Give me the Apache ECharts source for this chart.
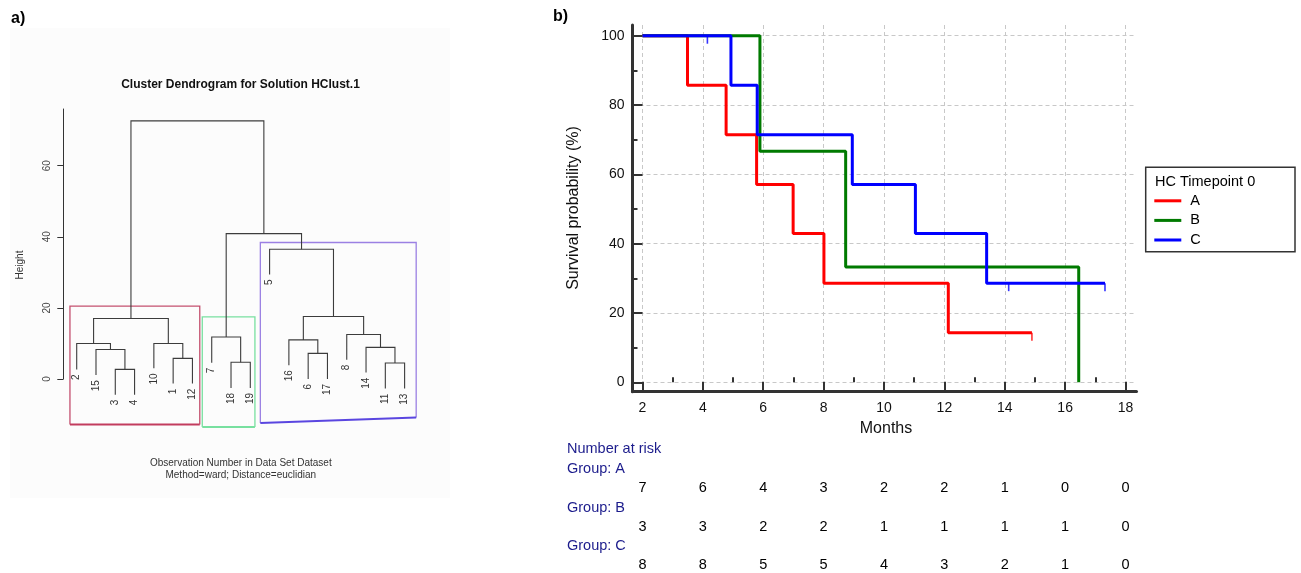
<!DOCTYPE html>
<html><head><meta charset="utf-8">
<script src="https://cdn.jsdelivr.net/npm/echarts@6/dist/echarts.min.js"></script>
<style>html,body{margin:0;padding:0;background:#fff}#c{width:1301px;height:573px}</style>
</head><body><div id="c"></div>
<script>
// ---------------- Dendrogram (panel a) ----------------
const leafLabels = ['2','15','3','4','10','1','12','7','18','19','5','16','6','17','8','14','11','13'];
const leafEnds   = [2.7, 1.1, -4.4, -4.4, 3.0, -1.3, -1.3, 4.6, -2.5, -2.5, 29.4, 3.9, 0.0, 0.0, 5.4, 1.8, -2.7, -2.7];
// hclust-style merges: negative = leaf position, positive = earlier merge number
const mergeA = [-3, -17, -9, -6, -13, -2, -16, -1, -5, -12, -8, -15, 8, 10, -11, 11, 13];
const mergeB = [-4, -18, -10, -7, -14, 1, 2, 6, 4, 5, 3, 7, 9, 12, 14, 15, 16];
const mergeHeights = [2.7, 4.5, 4.7, 5.8, 7.2, 8.3, 8.9, 10.0, 10.0, 11.0, 11.8, 12.5, 17.0, 17.6, 36.5, 40.9, 72.6];
const dendroTicks = [0, 20, 40, 60];
// cluster boxes (leaf-position / height units)
const boxLeft        = [0.65, 7.51, 10.52];
const boxRight       = [7.38, 10.24, 18.6];
const boxTop         = [20.5, 17.5, 38.4];
const boxBottomLeft  = [-12.8, -13.5, -12.4];
const boxBottomRight = [-12.8, -13.5, -10.8];

// ---------------- Kaplan-Meier (panel b) ----------------
const groupNames = ['A', 'B', 'C'];
const timesA = [2, 3.49, 4.77, 5.78, 6.99, 8.01, 12.13, 14.9];
const survA  = [100, 85.7, 71.4, 57.1, 42.9, 28.6, 14.3, 14.3];
const timesB = [2, 5.89, 8.73, 16.45];
const survB  = [100, 66.7, 33.3, 0];
const timesC = [2, 4.93, 5.80, 8.95, 11.04, 13.40, 17.32];
const survC  = [100, 85.7, 71.4, 57.1, 42.9, 28.6, 28.6];
const censorTimesA = [14.9];
const censorSurvA  = [14.3];
const censorTimesC = [4.15, 14.13, 17.32];
const censorSurvC  = [100, 28.6, 28.6];
const monthTicks = [2, 4, 6, 8, 10, 12, 14, 16, 18];
const monthMinor = [3, 5, 7, 9, 11, 13, 15, 17];
const survTicks = [0, 20, 40, 60, 80, 100];
const survMinor = [10, 30, 50, 70, 90];
const riskA = [7, 6, 4, 3, 2, 2, 1, 0, 0];
const riskB = [3, 3, 2, 2, 1, 1, 1, 1, 0];
const riskC = [8, 8, 5, 5, 4, 3, 2, 1, 0];

// ---------------- build ----------------
const FONT = 'Liberation Sans, Arial, sans-serif';
const kmColors = ['#ff0000', '#007a00', '#0000ff'];
const boxColors = ['#c4506f', '#78e0a0', '#9b80e3'];
const boxBottomColors = ['#c23c5e', '#78e0a0', '#5a46e0'];

const nodeX = [];
function childPos(ref) {
  return ref < 0 ? { x: -ref, y: leafEnds[-ref - 1] } : { x: nodeX[ref - 1], y: mergeHeights[ref - 1] };
}
const dendroSegs = [];
for (let i = 0; i < mergeA.length; i++) {
  const a = childPos(mergeA[i]), b = childPos(mergeB[i]);
  nodeX.push((a.x + b.x) / 2);
  dendroSegs.push([a.x, a.y, b.x, b.y, mergeHeights[i]]);
}
const boxData = boxLeft.map((l, i) => [l, boxRight[i], boxTop[i], boxBottomLeft[i], boxBottomRight[i], i]);
const leafData = leafLabels.map((t, i) => [i + 1, leafEnds[i]]);

const pairs = (xs, ys) => xs.map((x, i) => [x, ys[i]]);
const kmSeries = [[timesA, survA], [timesB, survB], [timesC, survC]].map((d, i) => ({
  name: groupNames[i], type: 'line', xAxisIndex: 1, yAxisIndex: 1, data: pairs(d[0], d[1]),
  step: 'end', symbol: 'none', showSymbol: false,
  lineStyle: { color: kmColors[i], width: 3 }, itemStyle: { color: kmColors[i] }, z: 3 + i
}));
const censorSeries = [[censorTimesA, censorSurvA, 0], [censorTimesC, censorSurvC, 2]].map(d => ({
  name: 'censor' + groupNames[d[2]], type: 'scatter', xAxisIndex: 1, yAxisIndex: 1,
  data: pairs(d[0], d[1]), symbol: 'rect', symbolSize: [1.6, 8], symbolOffset: [0, 4],
  itemStyle: { color: kmColors[d[2]] }, z: 10
}));
const riskRows = [riskA, riskB, riskC];
const riskRowY = [488.3, 526.7, 565];
const riskGrids = riskRowY.map(y => ({ left: 632.5, width: 504, top: y - 5, height: 10 }));
const riskX = riskRowY.map((y, i) => ({ gridIndex: 2 + i, type: 'value', min: 1.669, max: 18.364, show: false }));
const riskY = riskRowY.map((y, i) => ({ gridIndex: 2 + i, type: 'value', min: 0, max: 1, show: false }));
const riskSeries = riskRows.map((r, i) => ({
  type: 'custom', xAxisIndex: 3 + i, yAxisIndex: 3 + i, clip: false,
  data: monthTicks.map((m, j) => [m, 0.5, r[j]]),
  renderItem: (params, api) => {
    const p = api.coord([api.value(0), api.value(1)]);
    return { type: 'text', x: p[0], y: p[1],
      style: { text: String(api.value(2)), font: '14.5px ' + FONT, fill: '#000', align: 'center', verticalAlign: 'middle' } };
  }
}));

const gridLine = { show: true, lineStyle: { type: [4, 3], color: '#c8c8c8', width: 1 } };

const option = {
  animation: false,
  backgroundColor: '#ffffff',
  textStyle: { fontFamily: FONT },
  grid: [
    { left: 63.3, top: 109, width: 360.6, height: 270 },
    { left: 632.5, top: 25, width: 504, height: 366.7 },
    ...riskGrids
  ],
  xAxis: [
    { gridIndex: 0, type: 'value', min: 0.305, max: 19, show: false },
    { gridIndex: 1, type: 'value', min: 1.669, max: 18.364, position: 'bottom',
      axisLine: { show: true, onZero: false, lineStyle: { color: '#333', width: 3 } },
      axisTick: { show: true, inside: true, length: 10, customValues: monthTicks, lineStyle: { color: '#333', width: 2 } },
      axisLabel: { show: true, customValues: monthTicks, fontSize: 14, color: '#111', margin: 9 },
      splitLine: gridLine },
    { gridIndex: 1, type: 'value', min: 1.669, max: 18.364, position: 'bottom',
      axisLine: { show: false }, axisLabel: { show: false }, splitLine: { show: false },
      axisTick: { show: true, inside: true, length: 5, customValues: monthMinor, lineStyle: { color: '#333', width: 2 } } },
    ...riskX
  ],
  yAxis: [
    { gridIndex: 0, type: 'value', min: 0, max: 75.95,
      axisLine: { show: true, lineStyle: { color: '#333', width: 1 } },
      axisTick: { show: true, length: 6, customValues: dendroTicks, lineStyle: { color: '#333' } },
      axisLabel: { show: true, customValues: dendroTicks, rotate: 90, fontSize: 10, color: '#444', margin: 11 },
      splitLine: { show: false } },
    { gridIndex: 1, type: 'value', min: -2.71, max: 103.09, position: 'left',
      axisLine: { show: true, onZero: false, lineStyle: { color: '#333', width: 3 } },
      axisTick: { show: true, inside: true, length: 10, customValues: survTicks, lineStyle: { color: '#333', width: 2 } },
      axisLabel: { show: true, customValues: survTicks, fontSize: 14, color: '#111', margin: 8 },
      splitLine: gridLine },
    { gridIndex: 1, type: 'value', min: -2.71, max: 103.09, position: 'left',
      axisLine: { show: false }, axisLabel: { show: false }, splitLine: { show: false },
      axisTick: { show: true, inside: true, length: 5, customValues: survMinor, lineStyle: { color: '#333', width: 2 } } },
    ...riskY
  ],
  legend: {
    data: groupNames, orient: 'vertical', left: 1154.3, top: 193.3, padding: 0,
    icon: 'rect', itemWidth: 27, itemHeight: 3, itemGap: 4.6,
    textStyle: { fontSize: 14.5, color: '#000', padding: [0, 0, 0, 4] }
  },
  graphic: [
    { type: 'rect', z: -10, shape: { x: 10, y: 28, width: 440, height: 470 }, style: { fill: '#fcfcfc' } },
    { type: 'text', x: 11, y: 19, style: { text: 'a)', font: 'bold 16px ' + FONT, fill: '#000', verticalAlign: 'middle' } },
    { type: 'text', x: 553, y: 17, style: { text: 'b)', font: 'bold 16px ' + FONT, fill: '#000', verticalAlign: 'middle' } },
    { type: 'text', x: 240.5, y: 85, style: { text: 'Cluster Dendrogram for Solution HClust.1', font: 'bold 12px ' + FONT, fill: '#111', align: 'center', verticalAlign: 'middle' } },
    { type: 'text', x: 240.8, y: 463, style: { text: 'Observation Number in Data Set Dataset', font: '10px ' + FONT, fill: '#333', align: 'center', verticalAlign: 'middle' } },
    { type: 'text', x: 240.8, y: 475.5, style: { text: 'Method=ward; Distance=euclidian', font: '10px ' + FONT, fill: '#333', align: 'center', verticalAlign: 'middle' } },
    { type: 'text', x: 20.7, y: 265, rotation: Math.PI / 2, style: { text: 'Height', font: '10px ' + FONT, fill: '#333', align: 'center', verticalAlign: 'middle' } },
    { type: 'text', x: 574, y: 208, rotation: Math.PI / 2, style: { text: 'Survival probability (%)', font: '16px ' + FONT, fill: '#111', align: 'center', verticalAlign: 'middle' } },
    { type: 'text', x: 886, y: 429, style: { text: 'Months', font: '16px ' + FONT, fill: '#111', align: 'center', verticalAlign: 'middle' } },
    { type: 'rect', shape: { x: 1145.7, y: 167.3, width: 149.3, height: 84.4 }, style: { fill: 'none', stroke: '#333', lineWidth: 1.5 } },
    { type: 'text', x: 1155, y: 182, style: { text: 'HC Timepoint 0', font: '14.5px ' + FONT, fill: '#000', verticalAlign: 'middle' } },
    { type: 'text', x: 567, y: 449.3, style: { text: 'Number at risk', font: '14.5px ' + FONT, fill: '#1c1c8c', verticalAlign: 'middle' } },
    { type: 'text', x: 567, y: 469, style: { text: 'Group: A', font: '14.5px ' + FONT, fill: '#1c1c8c', verticalAlign: 'middle' } },
    { type: 'text', x: 567, y: 507.7, style: { text: 'Group: B', font: '14.5px ' + FONT, fill: '#1c1c8c', verticalAlign: 'middle' } },
    { type: 'text', x: 567, y: 546, style: { text: 'Group: C', font: '14.5px ' + FONT, fill: '#1c1c8c', verticalAlign: 'middle' } }
  ],
  series: [
    { type: 'custom', xAxisIndex: 0, yAxisIndex: 0, clip: false, data: boxData,
      renderItem: (params, api) => {
        const tl = api.coord([api.value(0), api.value(2)]), tr = api.coord([api.value(1), api.value(2)]);
        const br = api.coord([api.value(1), api.value(4)]), bl = api.coord([api.value(0), api.value(3)]);
        const k = api.value(5);
        return { type: 'group', children: [
          { type: 'polyline', shape: { points: [bl, tl, tr, br] }, style: { fill: 'none', stroke: boxColors[k], lineWidth: 1.3 } },
          { type: 'line', shape: { x1: bl[0], y1: bl[1], x2: br[0], y2: br[1] }, style: { stroke: boxBottomColors[k], lineWidth: 2 } }
        ] };
      } },
    { type: 'custom', xAxisIndex: 0, yAxisIndex: 0, clip: false, data: dendroSegs,
      renderItem: (params, api) => {
        const pts = [
          api.coord([api.value(0), api.value(1)]), api.coord([api.value(0), api.value(4)]),
          api.coord([api.value(2), api.value(4)]), api.coord([api.value(2), api.value(3)])
        ];
        return { type: 'polyline', shape: { points: pts }, style: { fill: null, stroke: '#3c3c3c', lineWidth: 1.1 } };
      } },
    { type: 'custom', xAxisIndex: 0, yAxisIndex: 0, clip: false, data: leafData,
      renderItem: (params, api) => {
        const p = api.coord([api.value(0), api.value(1)]);
        return { type: 'text', x: p[0], y: p[1] + 5, rotation: Math.PI / 2,
          style: { text: leafLabels[params.dataIndex], font: '10px ' + FONT, fill: '#333', align: 'right', verticalAlign: 'middle' } };
      } },
    ...kmSeries,
    ...censorSeries,
    ...riskSeries
  ]
};
const chart = echarts.init(document.getElementById('c'), null, { renderer: 'canvas' });
chart.setOption(option);
</script>
</body></html>
